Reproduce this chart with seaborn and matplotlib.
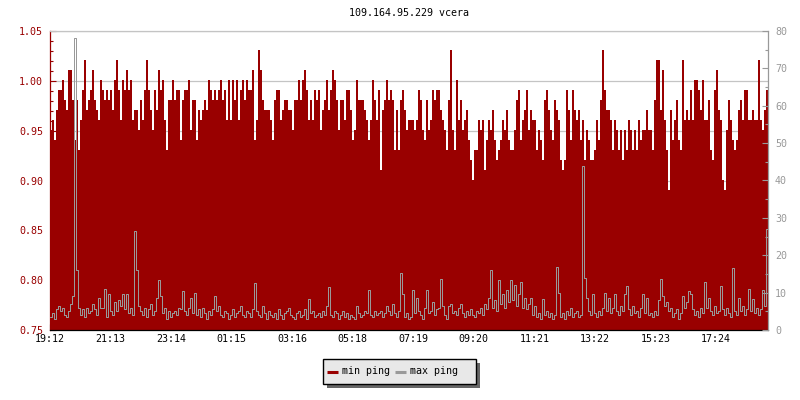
import numpy as np
import matplotlib
matplotlib.use("Agg")
import matplotlib.pyplot as plt
import seaborn as sns
from matplotlib.lines import Line2D
from matplotlib.patches import Rectangle
from matplotlib.ticker import MultipleLocator, FixedLocator, FormatStrFormatter

title = "109.164.95.229 vcera"
series_names = ["min ping", "max ping"]
tick_labels = ["19:12", "21:13", "23:14", "01:15", "03:16", "05:18",
               "07:19", "09:20", "11:21", "13:22", "15:23", "17:24"]
sample_minutes = 4          # one sample every 4 minutes
tick_step_minutes = 1332 / 11

min_ping = [
    0.95,0.96,0.94,0.97,0.99,0.99,1.00,0.98,0.97,1.01,
    1.01,0.98,0.94,0.98,0.93,0.96,0.99,1.02,0.97,0.98,
    0.99,1.01,0.98,0.97,0.96,1.00,0.99,0.98,0.99,0.98,
    0.99,0.97,1.00,1.02,0.99,0.96,1.00,0.99,1.01,0.99,
    1.00,0.96,0.97,0.97,0.95,0.98,0.96,0.99,1.02,0.99,
    0.97,0.95,0.99,0.97,1.01,0.99,1.00,0.96,0.93,0.98,

    0.98,1.00,0.98,0.99,0.99,0.94,0.98,0.99,0.99,1.00,
    0.95,0.98,0.98,0.94,0.97,0.96,0.97,0.98,0.97,1.00,
    0.99,0.98,0.99,0.98,0.99,1.00,0.98,0.99,0.96,1.00,
    0.96,1.00,0.98,1.00,0.96,0.99,1.00,0.98,1.00,0.99,
    0.99,1.01,0.94,0.96,1.03,1.01,0.98,0.97,0.97,0.97,
    0.96,0.94,0.98,0.99,0.99,0.96,0.97,0.98,0.98,0.97,

    0.97,0.95,0.98,0.98,1.00,0.98,1.00,1.01,0.99,0.96,
    0.98,0.96,0.99,0.98,0.99,0.95,0.97,0.98,1.00,0.97,
    0.99,1.01,1.00,0.98,0.95,0.98,0.98,0.96,0.99,0.99,
    0.97,0.94,0.95,1.00,0.98,0.98,0.98,0.97,0.96,0.94,
    0.96,1.00,0.98,0.96,0.99,0.91,0.97,0.98,1.00,0.98,
    0.99,0.98,0.93,0.97,0.93,0.98,0.99,0.97,0.95,0.96,

    0.96,0.96,0.95,0.96,0.99,0.98,0.95,0.94,0.98,0.95,
    0.96,0.99,0.98,0.99,0.99,0.97,0.96,0.95,0.93,0.98,
    1.03,0.95,0.93,1.00,0.96,0.98,0.95,0.96,0.97,0.94,
    0.92,0.90,0.93,0.93,0.96,0.95,0.96,0.91,0.94,0.96,
    0.95,0.97,0.94,0.92,0.93,0.94,0.96,0.95,0.97,0.94,
    0.93,0.93,0.95,0.98,0.99,0.94,0.96,0.97,0.99,0.95,

    0.97,0.96,0.96,0.93,0.95,0.94,0.92,0.98,0.99,0.97,
    0.95,0.94,0.98,0.97,0.96,0.92,0.91,0.92,0.99,0.97,
    0.94,0.99,0.97,0.96,0.97,0.94,0.96,0.92,0.95,0.94,
    0.92,0.92,0.93,0.96,0.94,0.98,1.03,0.99,0.97,0.97,
    0.96,0.93,0.96,0.95,0.93,0.95,0.92,0.95,0.93,0.96,
    0.95,0.93,0.95,0.93,0.96,0.94,0.95,0.95,0.97,0.95,

    0.95,0.93,0.98,1.02,1.02,0.97,1.01,0.96,0.93,0.89,
    0.97,0.94,0.96,0.98,0.94,0.93,1.02,0.96,0.97,0.96,
    0.99,0.96,1.00,1.00,0.99,0.97,1.00,0.96,0.96,0.98,
    0.93,0.92,0.99,1.01,0.97,0.96,0.90,0.89,0.95,0.98,
    0.96,0.94,0.93,0.94,0.97,0.98,0.96,0.99,0.99,0.96,
    0.96,0.97,0.96,0.96,1.02,0.96,0.95,0.97,0.99,
]

max_ping = [
    3.5,4.5,3.0,5.5,6.5,5.0,6.0,4.0,3.5,5.0,
    7.0,9.0,78.0,16.0,6.0,4.0,5.5,3.5,6.0,4.5,
    5.0,7.0,5.5,4.0,8.5,6.0,6.0,11.0,3.5,9.5,
    5.0,4.0,7.5,5.0,8.0,6.5,9.5,5.5,9.5,4.5,
    6.0,4.0,26.5,16.0,6.5,5.0,4.0,6.0,3.5,5.5,
    7.0,4.0,5.0,8.5,13.4,9.0,4.5,6.0,3.0,5.0,

    3.5,4.5,5.0,4.0,6.0,5.5,10.4,5.0,4.0,6.0,
    8.5,4.5,10.0,4.0,5.5,3.5,6.0,4.5,3.0,5.0,
    4.0,5.5,9.0,5.0,6.5,4.0,3.5,5.0,4.5,3.0,
    4.0,5.5,3.5,4.5,5.0,6.5,4.0,3.5,5.0,4.5,
    3.5,5.5,12.6,5.0,4.0,3.5,6.5,4.5,3.0,5.0,
    4.0,3.5,4.5,3.0,5.5,4.0,3.0,4.5,5.0,6.0,

    4.0,3.5,3.0,4.5,5.0,3.5,4.0,5.5,3.0,8.2,
    4.5,5.0,3.5,4.0,4.5,3.5,5.0,4.0,6.5,11.4,
    4.0,3.5,5.0,4.5,3.0,4.0,5.0,3.5,4.5,3.0,
    4.0,3.5,3.0,6.5,4.5,3.5,4.0,5.0,4.5,10.6,
    4.0,3.5,5.0,4.0,4.5,5.0,3.5,4.5,6.5,5.0,
    4.0,7.0,4.5,3.5,5.0,15.2,9.5,3.5,4.5,3.0,

    3.5,10.7,4.5,8.5,5.0,4.0,3.0,6.0,10.8,4.5,
    5.0,7.5,4.0,5.5,6.0,13.6,6.5,4.0,3.0,6.5,
    7.0,4.5,5.0,4.0,6.0,7.0,4.5,3.5,5.0,4.0,
    5.5,4.0,3.5,5.0,4.5,6.0,4.0,7.0,5.5,8.5,
    16.0,6.0,8.0,5.0,13.4,7.0,9.5,6.0,10.8,7.5,
    13.4,8.0,12.0,6.5,9.5,12.8,6.0,8.5,5.5,7.0,

    8.5,4.0,6.5,3.5,4.5,3.0,8.2,4.0,5.0,3.5,
    4.5,3.0,4.0,16.9,9.8,3.5,4.5,3.0,5.0,4.0,
    6.0,3.5,4.5,5.0,3.5,4.0,44.0,14.0,8.5,5.0,
    4.0,9.5,4.5,3.5,5.0,4.0,6.0,9.8,5.0,8.5,
    4.5,6.0,9.5,5.0,4.0,6.5,5.0,9.6,11.8,5.5,
    4.0,6.5,4.5,5.0,3.5,6.0,9.5,4.5,8.5,4.0,

    4.5,3.5,5.0,4.0,8.0,13.7,9.0,6.5,7.5,5.0,
    6.0,3.5,4.5,5.5,3.0,4.5,9.0,6.0,7.5,10.5,
    9.6,5.5,4.0,5.0,3.5,6.0,4.5,12.8,6.0,8.5,
    5.0,4.0,6.5,4.5,5.0,11.8,5.5,4.0,6.0,4.5,
    3.5,16.5,5.0,4.0,8.5,5.0,6.5,4.0,5.5,11.0,
    5.0,8.2,4.5,6.0,4.0,5.5,10.7,6.5,27.0,
]

RED = "#990000"
GRAY = "#999999"
MONO = "DejaVu Sans Mono"
FS = 7.2

sns.set_style("white")
plt.rcParams["font.family"] = [MONO, "DejaVu Sans"]
plt.rcParams["font.size"] = FS

n = min(len(min_ping), len(max_ping))
t = np.arange(n + 1) * sample_minutes
y_min = np.append(np.array(min_ping[:n]), min_ping[n - 1])
y_max = np.append(np.array(max_ping[:n]), max_ping[n - 1])

W, H = 800, 400
fig = plt.figure(figsize=(8, 4), dpi=100)
ax = fig.add_axes([50 / W, 70 / H, 718 / W, 299 / H])
ax.set_axisbelow(True)
ax.grid(axis="y", which="major", color="#c4c4c4", lw=0.9)
ax.grid(axis="x", visible=False)

ax.fill_between(t, 0, y_min, step="post", color=RED, lw=0, antialiased=False, zorder=2)

ax.set_xlim(0, n * sample_minutes)
ax.set_ylim(0.75, 1.05)
ax.yaxis.set_major_locator(MultipleLocator(0.05))
ax.yaxis.set_minor_locator(MultipleLocator(0.01))
ax.yaxis.set_major_formatter(FormatStrFormatter("%.2f"))
ax.xaxis.set_major_locator(FixedLocator([k * tick_step_minutes for k in range(len(tick_labels))]))
ax.set_xticklabels(tick_labels)

ax.tick_params(axis="y", which="major", direction="in", length=4, width=0.8,
               color=RED, labelcolor=RED, labelsize=FS, pad=5, left=True)
ax.tick_params(axis="y", which="minor", direction="in", length=2.5, width=0.8,
               color=RED, left=True)
ax.tick_params(axis="x", which="major", direction="in", length=4, width=0.8,
               color="black", labelcolor="black", labelsize=FS, pad=3, bottom=True)

ax.spines["left"].set_color(RED)
ax.spines["bottom"].set_color("black")
ax.spines["top"].set_color("#c4c4c4")
ax.spines["right"].set_visible(False)
for sp in ax.spines.values():
    sp.set_linewidth(0.9)

ax2 = ax.twinx()
sns.lineplot(x=t, y=y_max, ax=ax2, color=GRAY, lw=0.72, drawstyle="steps-post",
             estimator=None, legend=False, zorder=4)
ax2.set_ylim(0, 80)
ax2.yaxis.set_major_locator(MultipleLocator(10))
ax2.yaxis.set_minor_locator(MultipleLocator(5))
ax2.set_ylabel("")
ax2.grid(False)
ax2.tick_params(axis="y", which="major", direction="in", length=4, width=0.8,
                color=GRAY, labelcolor=GRAY, labelsize=FS, pad=5, right=True)
ax2.tick_params(axis="y", which="minor", direction="in", length=2.5, width=0.8,
                color=GRAY, right=True)
for side in ["left", "top", "bottom"]:
    ax2.spines[side].set_visible(False)
ax2.spines["right"].set_color(GRAY)
ax2.spines["right"].set_linewidth(0.9)

ax.set_title(title, fontsize=FS, color="black", pad=11)

# legend box drawn in figure pixels (top-left origin converted)
def fx(px):
    return px / W

def fy(py):
    return 1 - py / H

fig.patches.append(Rectangle((fx(327), fy(387.5)), fx(480) - fx(327), fy(363) - fy(387.5),
                             transform=fig.transFigure, facecolor="#666666",
                             edgecolor="none", zorder=10))
fig.patches.append(Rectangle((fx(323), fy(383.5)), fx(476) - fx(323), fy(359) - fy(383.5),
                             transform=fig.transFigure, facecolor="#e8e8e8",
                             edgecolor="black", lw=1.0, zorder=11))
legend_items = [(RED, 327, 338, 341.5), (GRAY, 395, 406, 409.5)]
for (c, x0, x1, xt), name in zip(legend_items, series_names):
    fig.lines.append(Line2D([fx(x0), fx(x1)], [fy(372), fy(372)], transform=fig.transFigure,
                            color=c, lw=2.2, solid_capstyle="butt", zorder=12))
    fig.text(fx(xt), fy(371), name, ha="left", va="center", fontsize=FS,
             color="black", zorder=12)

fig.savefig("out.png", dpi=100, facecolor="white")
